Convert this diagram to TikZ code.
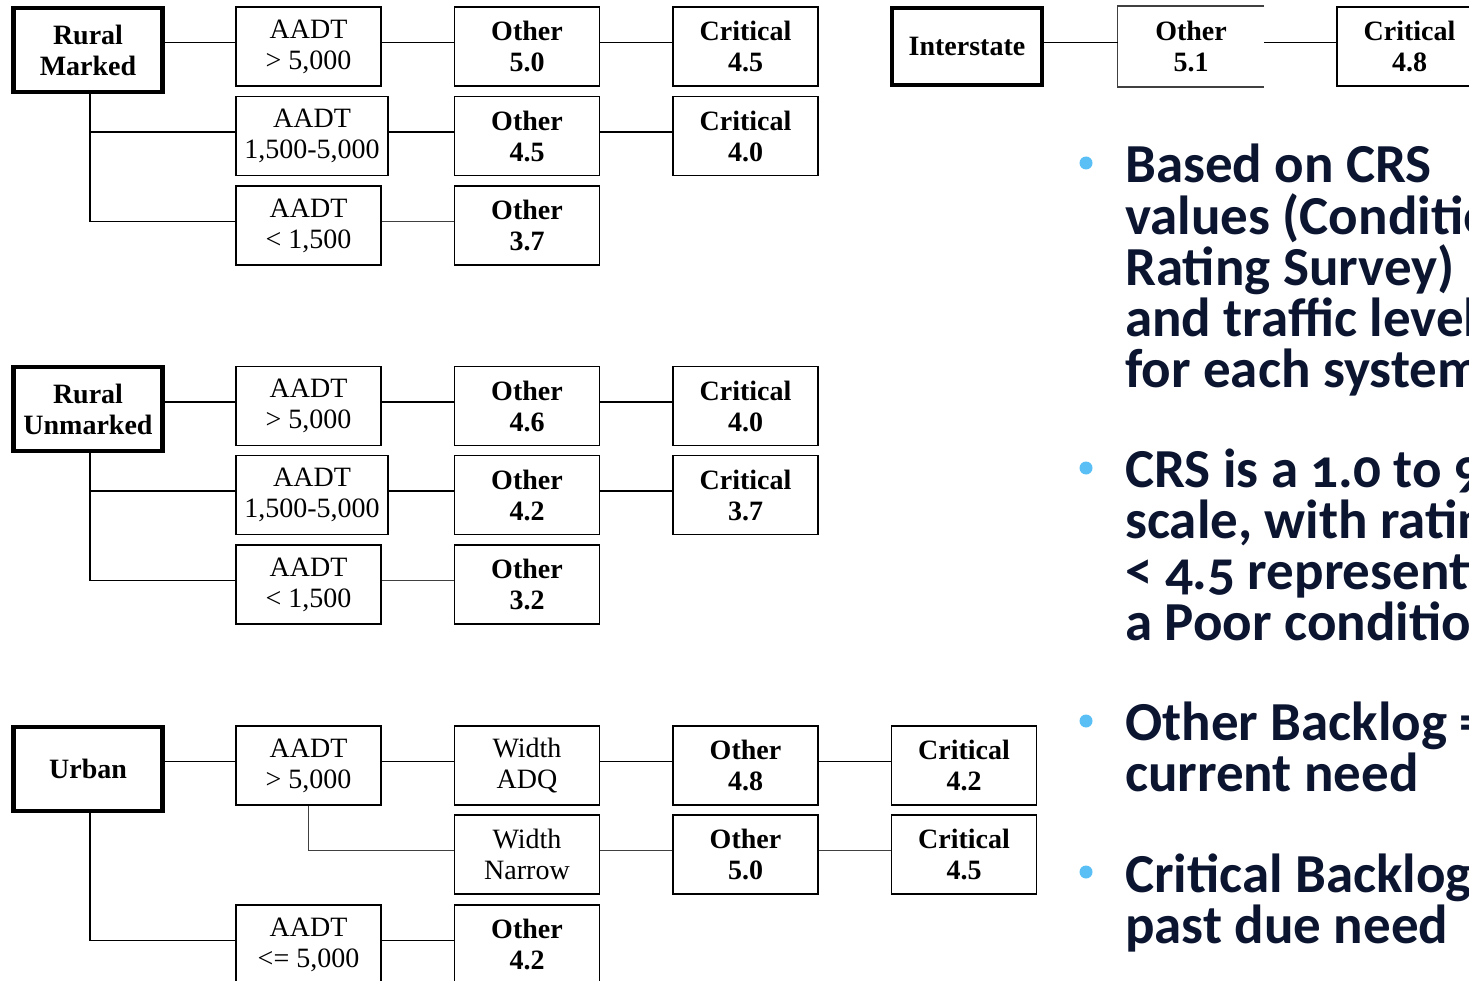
\documentclass[tikz,border=0pt]{standalone}
\usepackage{fontspec}
\setmainfont{Liberation Serif}
\newfontfamily\slidefont[Numbers=OldStyle]{Carlito}
\definecolor{navy}{HTML}{0B1530}
\definecolor{bulletblue}{HTML}{59BFF5}
\begin{document}
\begin{tikzpicture}[x=1pt,y=-1pt,
  box/.style={draw, line width=1.8pt, minimum width=145pt, minimum height=79pt,
    inner sep=0pt, align=center, font=\fontsize{28}{31}\selectfont},
  boldbox/.style={box, font=\fontsize{28}{31}\selectfont\bfseries},
  rootbox/.style={boldbox, line width=4.5pt, minimum width=149pt, minimum height=84pt},
  link/.style={line width=1.8pt},
  faint/.style={line width=1.5pt, draw=black!75},
  dot/.style={circle, fill=bulletblue, inner sep=0pt, minimum size=13pt},
  slide/.style={anchor=base west, align=left, text=navy, inner sep=0pt,
    font=\slidefont\bfseries\fontsize{55}{51}\selectfont}]
\useasboundingbox (0,0) rectangle (1469,981);
\clip (0,0) rectangle (1469,981);

% ---------------- Rural Marked ----------------
\node[rootbox] (rm) at (88,50) {Rural\\Marked};
\node[box] (m1) at (308.5,46.5) {AADT\\> 5,000};
\node[box, minimum width=152pt] (m2) at (312,136) {AADT\\1,500-5,000};
\node[box] (m3) at (308.5,225.5) {AADT\\< 1,500};
\node[boldbox] (mo1) at (527,46.5) {Other\\5.0};
\node[boldbox] (mo2) at (527,136) {Other\\4.5};
\node[boldbox] (mo3) at (527,225.5) {Other\\3.7};
\node[boldbox] (mc1) at (745.5,46.5) {Critical\\4.5};
\node[boldbox] (mc2) at (745.5,136) {Critical\\4.0};

\coordinate (rmt) at ([xshift=2pt]rm.south);
\coordinate (m1w) at ([yshift=4pt]m1.west);
\coordinate (m2w) at ([yshift=4pt]m2.west);
\draw[link] (rm.east |- m1w) -- (m1w);
\draw[link] (rmt) |- ([yshift=4pt]m3.west);
\draw[link] (rmt |- m2w) -- (m2w);
\draw[link] ([yshift=4pt]m1.east) -- ([yshift=4pt]mo1.west);
\draw[link] ([yshift=4pt]m2.east) -- ([yshift=4pt]mo2.west);
\draw[faint] ([yshift=4pt]m3.east) -- ([yshift=4pt]mo3.west);
\draw[link] ([yshift=4pt]mo1.east) -- ([yshift=4pt]mc1.west);
\draw[link] ([yshift=4pt]mo2.east) -- ([yshift=4pt]mc2.west);

% ---------------- Rural Unmarked ----------------
\node[rootbox] (ru) at (88,409) {Rural\\Unmarked};
\node[box] (u1) at (308.5,406) {AADT\\> 5,000};
\node[box, minimum width=152pt] (u2) at (312,495) {AADT\\1,500-5,000};
\node[box] (u3) at (308.5,584.5) {AADT\\< 1,500};
\node[boldbox] (uo1) at (527,406) {Other\\4.6};
\node[boldbox] (uo2) at (527,495) {Other\\4.2};
\node[boldbox] (uo3) at (527,584.5) {Other\\3.2};
\node[boldbox] (uc1) at (745.5,406) {Critical\\4.0};
\node[boldbox] (uc2) at (745.5,495) {Critical\\3.7};

\coordinate (rut) at ([xshift=2pt]ru.south);
\coordinate (u1w) at ([yshift=4pt]u1.west);
\coordinate (u2w) at ([yshift=4pt]u2.west);
\draw[link] (ru.east |- u1w) -- (u1w);
\draw[link] (rut) |- ([yshift=4pt]u3.west);
\draw[link] (rut |- u2w) -- (u2w);
\draw[link] ([yshift=4pt]u1.east) -- ([yshift=4pt]uo1.west);
\draw[link] ([yshift=4pt]u2.east) -- ([yshift=4pt]uo2.west);
\draw[faint] ([yshift=4pt]u3.east) -- ([yshift=4pt]uo3.west);
\draw[link] ([yshift=4pt]uo1.east) -- ([yshift=4pt]uc1.west);
\draw[link] ([yshift=4pt]uo2.east) -- ([yshift=4pt]uc2.west);

% ---------------- Urban ----------------
\node[rootbox] (ur) at (88,769) {Urban};
\node[box] (h1) at (308.5,765.5) {AADT\\> 5,000};
\node[box] (h2) at (308.5,944.5) {AADT\\<= 5,000};
\node[box] (w1) at (527,765.5) {Width\\ADQ};
\node[box] (w2) at (527,854.5) {Width\\Narrow};
\node[boldbox] (ho3) at (527,944.5) {Other\\4.2};
\node[boldbox] (ho1) at (745.5,765.5) {Other\\4.8};
\node[boldbox] (ho2) at (745.5,854.5) {Other\\5.0};
\node[boldbox] (hc1) at (964,765.5) {Critical\\4.2};
\node[boldbox] (hc2) at (964,854.5) {Critical\\4.5};

\coordinate (h1w) at ([yshift=4pt]h1.west);
\draw[link] (ur.east |- h1w) -- (h1w);
\draw[link] ([xshift=2pt]ur.south) |- ([yshift=4pt]h2.west);
\draw[link] ([yshift=4pt]h1.east) -- ([yshift=4pt]w1.west);
\draw[faint] (h1.south) |- ([yshift=4pt]w2.west);
\draw[link] ([yshift=4pt]h2.east) -- ([yshift=4pt]ho3.west);
\draw[link] ([yshift=4pt]w1.east) -- ([yshift=4pt]ho1.west);
\draw[faint] ([yshift=4pt]w2.east) -- ([yshift=4pt]ho2.west);
\draw[link] ([yshift=4pt]ho1.east) -- ([yshift=4pt]hc1.west);
\draw[faint] ([yshift=4pt]ho2.east) -- ([yshift=4pt]hc2.west);

% ---------------- Interstate ----------------
\node[rootbox, minimum width=150pt, minimum height=77pt] (is) at (967,46.5) {Interstate};
\node[boldbox, draw=none] (io) at (1191,46.5) {Other\\5.1};
\draw[faint] (io.north east) -- (io.north west) -- (io.south west) -- (io.south east);
\node[boldbox] (ic) at (1409.5,46.5) {Critical\\4.8};
\coordinate (iow) at ([yshift=4pt]io.west);
\draw[link] (is.east |- iow) -- (iow);
\draw[link] ([yshift=4pt]io.east) -- ([yshift=4pt]ic.west);

% ---------------- Notes (base anchor = last line) ----------------
\node[dot] (d1) at (1086,163) {};
\node[dot] (d2) at (1086,468) {};
\node[dot] (d3) at (1086,721) {};
\node[dot] (d4) at (1086,872) {};
\node[slide] (t1) at (1125,387) {Based on CRS\\values (Condition\\Rating Survey)\\and traffic levels\\for each system};
\node[slide] (t2) at (1125,640) {CRS is a 1.0 to 9\\scale, with rating\\< 4.5 representing\\a Poor condition};
\node[slide] (t3) at (1125,791) {Other Backlog =\\current need};
\node[slide] (t4) at (1125,943) {Critical Backlog =\\past due need};
\end{tikzpicture}
\end{document}
